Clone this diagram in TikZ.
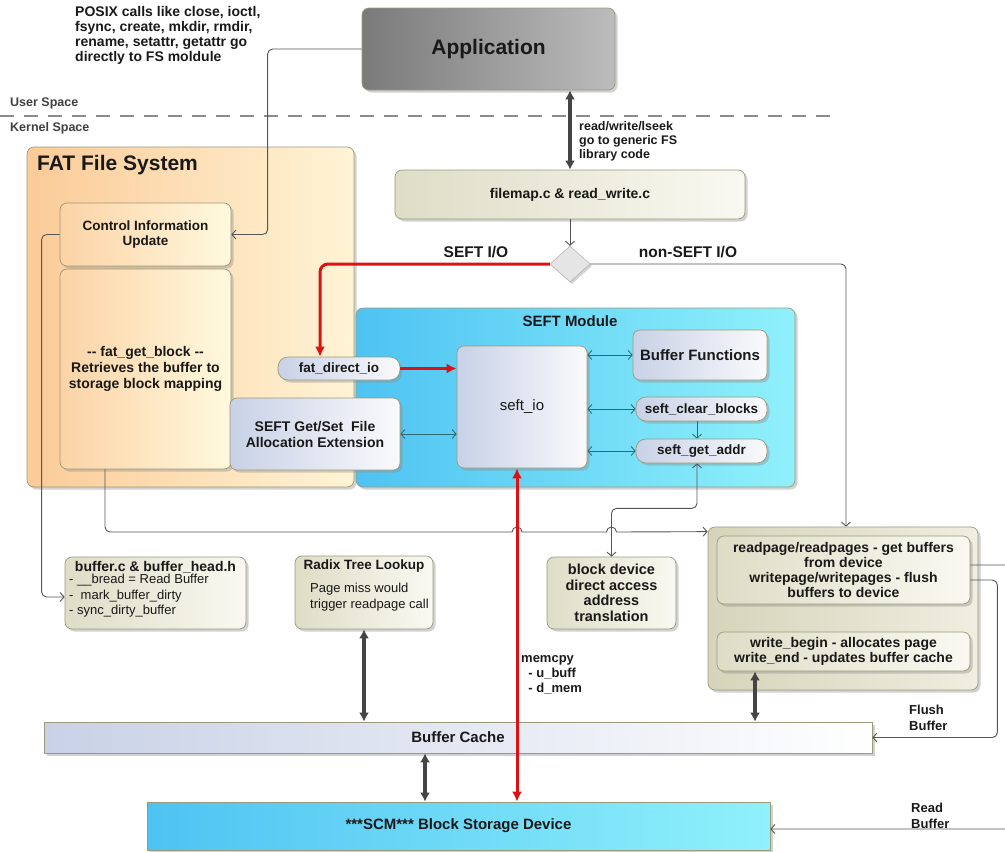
\documentclass[tikz,border=0pt]{standalone}
\usepackage{fontspec}
\setmainfont{Liberation Sans}
\usetikzlibrary{arrows.meta,shapes.geometric,shadows,calc}

\definecolor{edge}{HTML}{9C9A7A}
\definecolor{conncol}{HTML}{555555}
\definecolor{tealconn}{HTML}{2F6870}
\definecolor{redio}{HTML}{DD1111}
\definecolor{thickcol}{HTML}{454545}
\definecolor{bgL}{HTML}{C8D1E6}
\definecolor{bgR}{HTML}{FAFAFC}
\definecolor{orL}{HTML}{FBCB98}
\definecolor{orR}{HTML}{FFF4D6}
\definecolor{cyL}{HTML}{4EC3F2}
\definecolor{cyR}{HTML}{90F1FB}
\definecolor{appL}{HTML}{7A7A7A}
\definecolor{appR}{HTML}{BCBCBC}
\definecolor{inL}{HTML}{FCD3A6}
\definecolor{inR}{HTML}{FFF9DE}
\definecolor{bgeL}{HTML}{DEDDC6}
\definecolor{bgeR}{HTML}{F9F9F2}
\definecolor{bgdL}{HTML}{D6D4BA}
\definecolor{bgdR}{HTML}{EFEEE0}

\begin{document}
\begin{tikzpicture}[x=1pt,y=-1pt,
  every node/.append style={font=\bfseries\fontsize{13.5}{15}\selectfont, text=black!90},
  rbox/.style={draw=edge, line width=0.7pt, rounded corners=7pt, align=center, inner sep=2pt,
    drop shadow={shadow xshift=2.5pt, shadow yshift=-2.5pt, fill=black!45, opacity=0.4}},
  sbox/.style={rbox, rounded corners=0pt},
  pill/.style={rbox, rounded corners=10pt},
  beige/.style={left color=bgeL, right color=bgeR},
  bluegray/.style={left color=bgL, right color=bgR},
  orangebox/.style={left color=orL, right color=orR},
  cyanbox/.style={left color=cyL, right color=cyR},
  conn/.style={draw=conncol, line width=0.9pt, rounded corners=5pt, -{Straight Barb[length=4pt,width=9pt]}},
  tconn/.style={draw=tealconn, line width=0.8pt, {Straight Barb[length=4pt,width=9pt]}-{Straight Barb[length=4pt,width=9pt]}},
  thickarr/.style={draw=thickcol, line width=3.5pt, {Latex[length=9pt,width=10pt]}-{Latex[length=9pt,width=10pt]}},
  redarr/.style={draw=redio, line width=3pt},
  note/.style={align=left, font=\bfseries\fontsize{13.5}{15}\selectfont, inner sep=0pt}
]

\useasboundingbox (0,0) rectangle (1005,852);

% user / kernel separation
\draw[draw=black!45, line width=1.2pt, dash pattern=on 14pt off 10pt] (0,116) -- (840,116);
\node[note, anchor=west, font=\bfseries\fontsize{12.5}{14}\selectfont, text=black!75] (us) at (10,103) {User Space};
\node[note, anchor=west, font=\bfseries\fontsize{12.5}{14}\selectfont, text=black!75] (ks) at (10,128) {Kernel Space};

\node[note, anchor=north west, font=\bfseries\fontsize{14}{15.2}\selectfont] (posix) at (75,6) {POSIX calls like close, ioctl,\\fsync, create, mkdir, rmdir,\\rename, setattr, getattr go\\directly to FS moldule};

% user application and generic FS library
\node[rbox, left color=appL, right color=appR, minimum width=253pt, minimum height=82pt,
      font=\bfseries\fontsize{21}{24}\selectfont] (app) at (488.5,49) {Application};
\node[rbox, beige, minimum width=350pt, minimum height=49pt, font=\bfseries\fontsize{14}{16}\selectfont] (fm) at (570,194.5) {filemap.c \& read\_write.c};
\node[diamond, draw=black!35, fill=black!10, minimum width=40pt, minimum height=36pt, inner sep=0pt,
      drop shadow={shadow xshift=2pt, shadow yshift=-2pt, opacity=0.35}] (dia) at (570,264) {};
\node[note, anchor=north west, font=\bfseries\fontsize{12.5}{14}\selectfont] (rwl) at (579,121) {read/write/lseek\\go to generic FS\\library code};
\node[font=\bfseries\fontsize{15.5}{17}\selectfont] (seftio) at (476,252) {SEFT I/O};
\node[font=\bfseries\fontsize{15.5}{17}\selectfont] (nonseftio) at (688,252) {non-SEFT I/O};

% FAT file system
\node[rbox, orangebox, minimum width=327pt, minimum height=340pt] (fat) at (190.5,317) {};
\node[anchor=north west, inner sep=0pt, font=\bfseries\fontsize{21}{24}\selectfont] (fattitle) at (37,155) {FAT File System};
\node[rbox, left color=inL, right color=inR, minimum width=171pt, minimum height=63pt] (ciu) at (145.5,234.5) {Control Information\\Update};
\node[rbox, left color=inL, right color=inR, minimum width=171pt, minimum height=200pt, font=\bfseries\fontsize{14}{16}\selectfont] (fgb) at (145.5,369) {-{}- fat\_get\_block -{}-\\Retrieves the buffer to\\storage block mapping};

% SEFT module
\node[rbox, cyanbox, minimum width=439pt, minimum height=179pt] (seft) at (575.5,397.5) {};
\node[font=\bfseries\fontsize{15}{17}\selectfont] (sefttitle) at (570,321) {SEFT Module};
\node[pill, bluegray, minimum width=122pt, minimum height=23pt, inner sep=1pt] (fdio) at (339,368.5) {fat\_direct\_io};
\node[rbox, bluegray, minimum width=170pt, minimum height=72pt, font=\bfseries\fontsize{14}{16}\selectfont] (gs) at (315,434) {SEFT Get/Set\ \ File\\Allocation Extension};
\node[rbox, bluegray, minimum width=130pt, minimum height=122pt, font=\mdseries\fontsize{15}{17}\selectfont] (sio) at (522,407) {seft\_io};
\node[rbox, bluegray, minimum width=134pt, minimum height=50pt, font=\bfseries\fontsize{15}{17}\selectfont] (bf) at (700,355) {Buffer Functions};
\node[pill, bluegray, minimum width=131pt, minimum height=24pt, inner sep=1pt] (scb) at (701.5,409) {seft\_clear\_blocks};
\node[pill, bluegray, minimum width=131pt, minimum height=24pt, inner sep=1pt] (sga) at (701.5,451) {seft\_get\_addr};

% helpers
\node[rbox, beige, minimum width=181pt, minimum height=72pt] (bufc) at (155.5,593) {};
\node[inner sep=0pt, font=\bfseries\fontsize{14}{16}\selectfont] (bufct) at (155.5,567) {buffer.c \& buffer\_head.h};
\node[note, anchor=north west, font=\mdseries\fontsize{13}{15.5}\selectfont] (bufcl) at (69,574) {- \_\_bread = Read Buffer\\-\ \ mark\_buffer\_dirty\\- sync\_dirty\_buffer};
\node[rbox, beige, minimum width=138pt, minimum height=73pt] (rdx) at (364,592.5) {};
\node[inner sep=0pt] (rdxt) at (364,566) {Radix Tree Lookup};
\node[note, anchor=north west, font=\mdseries\fontsize{13}{15.5}\selectfont] (rdxl) at (310,583) {Page miss would\\trigger readpage call};
\node[rbox, beige, minimum width=129pt, minimum height=72pt, font=\bfseries\fontsize{14.5}{15.5}\selectfont] (bdev) at (611.5,593) {block device\\direct access\\address\\translation};

% address space operations
\node[rbox, left color=bgdL, right color=bgdR, minimum width=270pt, minimum height=163pt] (rp) at (843,608.5) {};
\node[rbox, beige, minimum width=253pt, minimum height=68pt, font=\bfseries\fontsize{14}{15}\selectfont] (rp1) at (843.5,570) {readpage/readpages - get buffers\\from device\\writepage/writepages - flush\\buffers to device};
\node[rbox, beige, minimum width=253pt, minimum height=39pt, font=\bfseries\fontsize{14}{15}\selectfont] (wb) at (843.5,651.5) {write\_begin - allocates page\\write\_end - updates buffer cache};

% cache and device
\node[sbox, left color=bgL, right color=white, minimum width=828pt, minimum height=31pt, font=\bfseries\fontsize{15}{17}\selectfont] (bc) at (458,737.5) {Buffer Cache};
\node[sbox, cyanbox, minimum width=623pt, minimum height=48pt, font=\bfseries\fontsize{15}{17}\selectfont] (scm) at (458.5,826) {***SCM*** Block Storage Device};

\node[note, anchor=north west, font=\bfseries\fontsize{13}{15}\selectfont] (memcpy) at (521,655) {memcpy\\\ \ - u\_buff\\\ \ - d\_mem};
\node[note, anchor=north west, font=\bfseries\fontsize{13}{16}\selectfont] (flush) at (909,705) {Flush\\Buffer};
\node[note, anchor=north west, font=\bfseries\fontsize{13}{16}\selectfont] (readb) at (911,803) {Read\\Buffer};

% column coordinates for vertical links
\coordinate (wbx) at (755,0);
\coordinate (bsx) at (425,0);
\coordinate (memx) at (517,0);

% thin connectors
\draw[conn] (app.west) -- ++(-94,0) |- (ciu.east);
\draw[conn] (ciu.west) -- ++(-18,0) |- ([yshift=-4pt]bufc.west);
\draw[conn] (fm.south) -- (dia.north);
\draw[conn] (dia.east) -| ([xshift=3pt]rp.north);
\draw[conn] ([xshift=-40.5pt]fgb.south) [rounded corners=5pt] |- (300,532) [sharp corners] -- (512,532)
   arc[start angle=180, end angle=0, radius=5pt] -- (606.5,532)
   arc[start angle=180, end angle=0, radius=5pt] -- ([yshift=-5pt]rp.north west);
\draw[conn, {Straight Barb[length=4pt,width=9pt]}-{Straight Barb[length=4pt,width=9pt]}]
   (bdev.north) |- ([xshift=-4.5pt, yshift=-45pt]sga.south) -- ([xshift=-4.5pt]sga.south);
\draw[conn] ([yshift=-10pt]rp1.east) -- ++(27,0) |- (bc.east);
\draw[conn] ([yshift=5pt]rp1.east) -- ++(45,0) |- ([yshift=-3pt]scm.east);

% links inside the SEFT module
\draw[tconn] (sio.east |- bf.west) -- (bf.west);
\draw[tconn] (sio.east |- scb.west) -- (scb.west);
\draw[tconn] (sio.east |- sga.west) -- (sga.west);
\draw[tconn] (gs.east) -- (sio.west |- gs.east);
\draw[draw=tealconn, line width=0.8pt, -{Straight Barb[length=4pt,width=9pt]}] ([xshift=-4.5pt]scb.south) -- ([xshift=-4.5pt]sga.north);

% heavy data paths
\draw[thickarr] (fm.north) -- (fm.north |- app.south);
\draw[thickarr] (rdx.south) -- (rdx.south |- bc.north);
\draw[thickarr] (wbx |- wb.south) -- (wbx |- bc.north);
\draw[thickarr] (bsx |- bc.south) -- (bsx |- scm.north);

% SEFT direct I/O path
\draw[redarr, rounded corners=8pt, -{Latex[length=10pt,width=10pt]}] (dia.west) -| ([xshift=-19pt]fdio.north);
\draw[redarr, -{Latex[length=10pt,width=10pt]}] (fdio.east) -- (sio.west |- fdio.east);
\draw[redarr, {Latex[length=10pt,width=10pt]}-{Latex[length=10pt,width=10pt]}] (memx |- sio.south) -- (memx |- scm.north);

\end{tikzpicture}
\end{document}
